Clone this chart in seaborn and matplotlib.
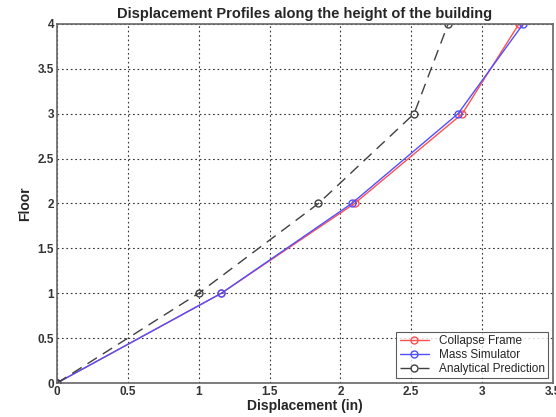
import numpy as np
import pandas as pd
import matplotlib
matplotlib.use('Agg')
import matplotlib.pyplot as plt
import seaborn as sns

floors = [0, 1, 2, 3, 4]
collapse_frame = [0, 1.16, 2.10, 2.86, 3.26]
mass_simulator = [0, 1.16, 2.08, 2.83, 3.29]
analytical = [0, 1.00, 1.845, 2.52, 2.76]

series_names = ['Collapse Frame', 'Mass Simulator', 'Analytical Prediction']
x_ticks = [0, 0.5, 1, 1.5, 2, 2.5, 3, 3.5]
y_ticks = [0, 0.5, 1, 1.5, 2, 2.5, 3, 3.5, 4]

df = pd.DataFrame({
    'disp': collapse_frame + mass_simulator + analytical,
    'floor': floors * 3,
    'serie': np.repeat(series_names, len(floors)),
})

sns.set_style('white')
plt.rcParams['font.family'] = ['Liberation Sans', 'DejaVu Sans']

fig = plt.figure(figsize=(5.56, 4.17), dpi=100)
ax = fig.add_axes([0.1025, 0.0815, 0.892, 0.861])

estilos = {
    'Collapse Frame': dict(color='#ff5050', ls='-'),
    'Mass Simulator': dict(color='#5050ff', ls='-'),
    'Analytical Prediction': dict(color='#404040', ls=(0, (8, 5))),
}
for nome in series_names:
    sub = df[df['serie'] == nome]
    sns.lineplot(data=sub, x='disp', y='floor', ax=ax, sort=False,
                 color=estilos[nome]['color'], linestyle=estilos[nome]['ls'],
                 linewidth=1.0, marker='o', markersize=5,
                 markerfacecolor='none', markeredgecolor=estilos[nome]['color'],
                 markeredgewidth=1.0, label=nome)

ax.set_xlim(0, 3.5)
ax.set_ylim(0, 4)
ax.set_xticks(x_ticks)
ax.set_xticklabels([f'{t:g}' for t in x_ticks])
ax.set_yticks(y_ticks)
ax.set_yticklabels([f'{t:g}' for t in y_ticks])
ax.grid(True, color='#333333', linestyle=(0, (1.5, 2.5)), linewidth=0.8)
for s in ax.spines.values():
    s.set_color('#666666')
    s.set_linewidth(1.2)
ax.tick_params(axis='both', labelsize=8.5, direction='in', length=4, width=1,
               color='#666666', pad=2)
for lbl in ax.get_xticklabels() + ax.get_yticklabels():
    lbl.set_fontweight('bold')
    lbl.set_color('#333333')

ax.set_title('Displacement Profiles along the height of the building',
             fontsize=10.5, fontweight='bold', pad=4)
ax.set_xlabel('Displacement (in)', fontsize=10, fontweight='bold', labelpad=1)
ax.set_ylabel('Floor', fontsize=10, fontweight='bold', labelpad=4)

leg = ax.legend(loc='lower right', fontsize=8.5, frameon=True, fancybox=False,
                borderpad=0.3, labelspacing=0.15, handlelength=2.5,
                borderaxespad=0.4)
leg.get_frame().set_edgecolor('#333333')
leg.get_frame().set_linewidth(0.8)

plt.savefig('out.png', dpi=100)
